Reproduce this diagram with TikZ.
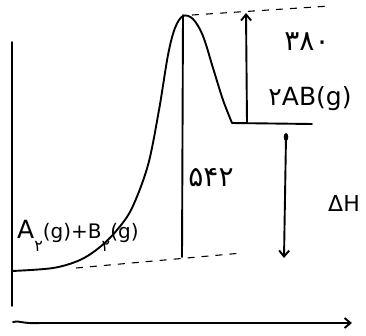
\documentclass[tikz,border=0pt]{standalone}
\usepackage{fontspec}
\setmainfont{DejaVu Sans}
\usetikzlibrary{arrows.meta}
\tikzset{
  ink/.style={line width=1.9pt, line cap=round, line join=round},
  dsh/.style={line width=1.1pt, dash pattern=on 7pt off 7pt},
  lbl/.style={inner sep=1pt},
  tip/.style={-{Straight Barb[length=6pt,width=10pt]}}
}
\newcommand{\subtwo}{\raisebox{-1.2ex}{\fontsize{16}{16}\selectfont ۲}}
\newcommand{\fsz}[1]{\fontsize{#1}{#1}\selectfont}
\begin{document}
\begin{tikzpicture}[x=1pt,y=-1pt]
\useasboundingbox (0,0) rectangle (366,335);
% axes
\coordinate (ytop) at (12,42);
\coordinate (ybot) at (12,306);
\coordinate (xl) at (13,322);
\coordinate (xr) at (352,323);
\draw[ink] (ytop) -- (ybot);
\draw[ink,tip] (xl) .. controls (18,320) and (22,324) .. (40,323) -- (xr);
% energy curve
\coordinate (r0) at (12,271);
\coordinate (peak) at (183,15);
\coordinate (p0) at (232,123);
\coordinate (p1) at (312,124);
\draw[ink] plot[smooth,tension=0.55] coordinates {(12,271) (53,268) (80,260) (100,247) (117,230) (132,208) (148,165) (159,110) (168,55) (175,28) (183,16) (193,19) (203,36) (213,68) (223,100) (232,123)} -- (p1);
% dashed levels
\coordinate (dpk0) at (192,15);
\coordinate (dpk1) at (330,6);
\draw[dsh] (dpk0) -- (dpk1);
\coordinate (dr0) at (76,268);
\coordinate (dr1) at (242,253);
\draw[dsh] (dr0) -- (dr1);
% activation energy line
\coordinate (ea1) at (182,257);
\draw[ink] (peak) -- (ea1);
% 380 arrow
\coordinate (b0) at (247,123);
\coordinate (b1) at (246,13);
\draw[ink,tip] (b0) -- (b1);
% Delta H arrow
\coordinate (h0) at (286,137);
\coordinate (h1) at (284,258);
\draw[ink,tip] (h0) -- (h1);
\fill (h0) ellipse (2.3pt and 4pt);
% labels
\node[lbl,font=\fsz{28}] (t380) at (307,42) {۳۸۰};
\node[lbl,font=\fsz{25}] (tprod) at (310,99) {۲AB(g)};
\node[lbl,font=\fsz{28}] (t542) at (211,178) {۵۴۲};
\node[lbl,font=\fsz{22}] (tdh) at (344,203) {ΔH};
\node[lbl,font=\fsz{20}, anchor=west] (treact) at (16,236) {{\fsz{25}A}\subtwo(g)+B\subtwo(g)};
\end{tikzpicture}
\end{document}
